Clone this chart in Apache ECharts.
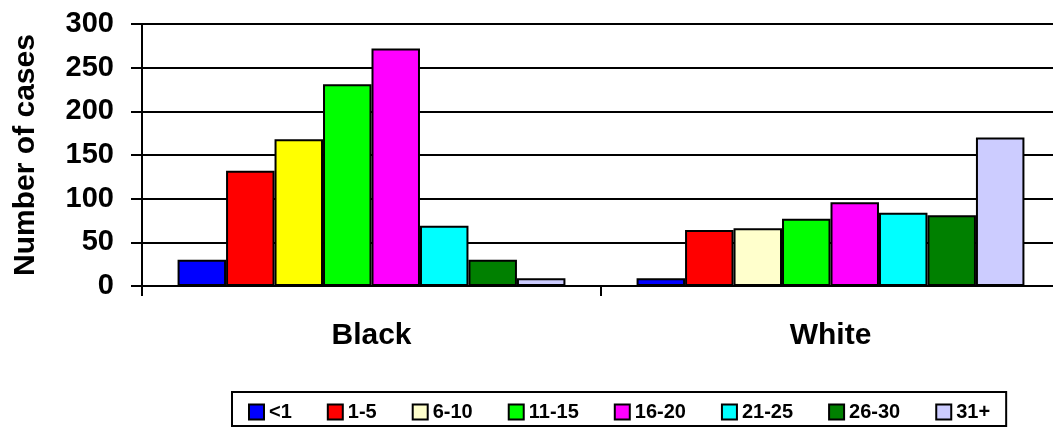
<!DOCTYPE html>
<html>
<head>
<meta charset="utf-8">
<title>Number of cases by race and age group</title>
<script src="https://cdn.jsdelivr.net/npm/echarts@6/dist/echarts.min.js"></script>
<style>
  html, body { margin: 0; padding: 0; background: #ffffff; overflow: hidden; width: 1053px; height: 427px; }
  /* the plot runs slightly past the right edge of the page, so the canvas is a little wider */
  #chart { width: 1061px; height: 427px; }
</style>
</head>
<body>
<div id="chart"></div>
<script>
// Case counts per race, split into age groups
const races = ['Black', 'White'];
const ageGroups = ['<1', '1-5', '6-10', '11-15', '16-20', '21-25', '26-30', '31+'];
const blackCases = [30, 132, 168, 231, 272, 69, 30, 9];
const whiteCases = [9, 64, 66, 77, 96, 84, 81, 170];

// Fill colour per age group (Black 6-10 bar is drawn in a brighter yellow)
const groupColors = ['#0000FF', '#FF0000', '#FFFFCC', '#00FF00', '#FF00FF', '#00FFFF', '#008000', '#CCCCFF'];
const blackOverrideColors = { '6-10': '#FFFF00' };

const FONT = "'Liberation Sans', Arial, Helvetica, sans-serif";

const series = ageGroups.map(function (group, i) {
  const blackItem = blackOverrideColors[group]
    ? { value: blackCases[i], itemStyle: { color: blackOverrideColors[group] } }
    : blackCases[i];
  return {
    name: group,
    type: 'bar',
    barGap: '0%',
    barCategoryGap: '15.5%',
    itemStyle: { color: groupColors[i], borderColor: '#000000', borderWidth: 2 },
    emphasis: { disabled: true },
    data: [blackItem, whiteCases[i]]
  };
});

const chart = echarts.init(document.getElementById('chart'), null, { renderer: 'canvas' });
chart.setOption({
  animation: false,
  backgroundColor: '#ffffff',
  textStyle: { fontFamily: FONT },
  grid: { left: 142, top: 24, right: 1, height: 262, containLabel: false },
  legend: {
    data: ageGroups,
    orient: 'horizontal',
    left: 232,
    top: 392,
    padding: [10, 16, 4, 16],
    itemWidth: 15,
    itemHeight: 15,
    itemGap: 35,
    borderColor: '#000000',
    borderWidth: 2,
    icon: 'rect',
    itemStyle: { borderColor: '#000000', borderWidth: 2 },
    textStyle: { fontFamily: FONT, fontWeight: 'bold', fontSize: 20, color: '#000000', padding: [0, 0, 0, 0] },
    selectedMode: false
  },
  xAxis: {
    type: 'category',
    data: races,
    boundaryGap: true,
    axisLine: { show: true, lineStyle: { color: '#000000', width: 2 } },
    axisTick: { show: true, length: 10, lineStyle: { color: '#000000', width: 2 } },
    axisLabel: { margin: 35, fontFamily: FONT, fontWeight: 'bold', fontSize: 30, color: '#000000' },
    splitLine: { show: false }
  },
  yAxis: {
    type: 'value',
    min: 0,
    max: 300,
    interval: 50,
    name: 'Number of cases',
    nameLocation: 'middle',
    nameRotate: 90,
    nameGap: 101,
    nameTextStyle: { fontFamily: FONT, fontWeight: 'bold', fontSize: 30, color: '#000000' },
    axisLine: { show: true, lineStyle: { color: '#000000', width: 2 } },
    axisTick: { show: true, length: 11, lineStyle: { color: '#000000', width: 2 } },
    axisLabel: { margin: 28, fontFamily: FONT, fontWeight: 'bold', fontSize: 29, color: '#000000' },
    splitLine: { show: true, lineStyle: { color: '#000000', width: 2 } }
  },
  series: series
});
</script>
</body>
</html>
